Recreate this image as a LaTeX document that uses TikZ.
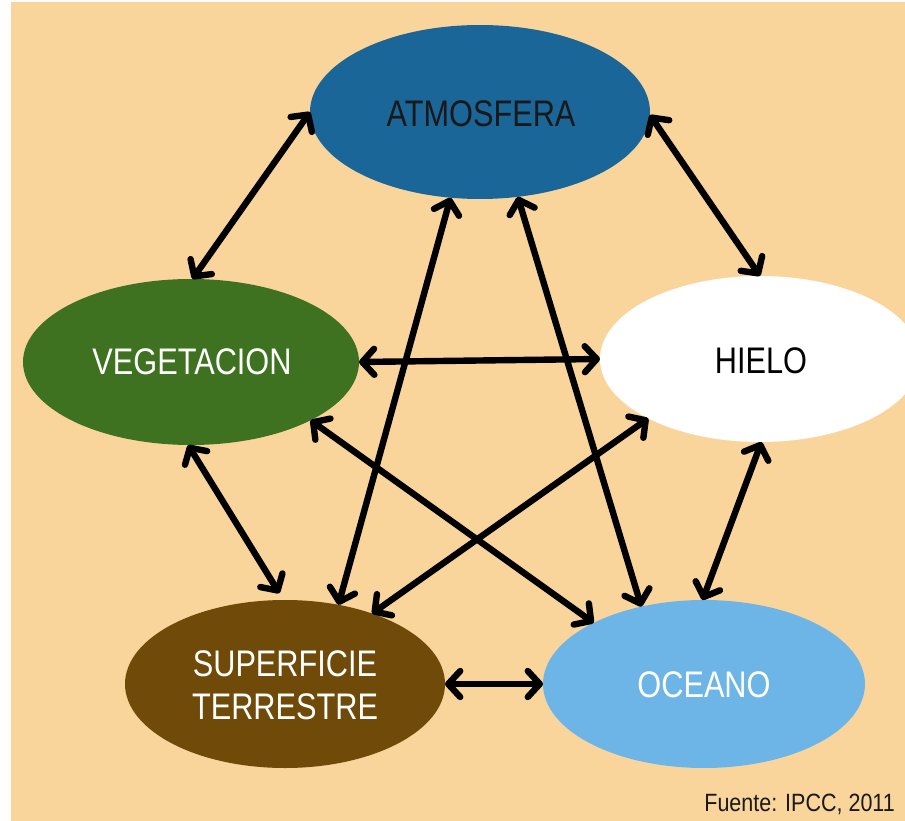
\documentclass[tikz,border=0pt]{standalone}
\usepackage{fontspec}
\setmainfont{Liberation Sans}
\newfontfamily\condfont[FakeStretch=0.83]{Liberation Sans}
\newfontfamily\srcfont[FakeStretch=0.86]{Liberation Sans}
\usetikzlibrary{shapes.geometric,arrows.meta}
\definecolor{bgpeach}{RGB}{249,213,156}
\definecolor{atmblue}{RGB}{26,102,153}
\definecolor{veggreen}{RGB}{63,114,32}
\definecolor{supbrown}{RGB}{111,74,8}
\definecolor{oceblue}{RGB}{109,181,230}
\tikzset{
  blob/.style={ellipse, inner sep=0pt, outer sep=0pt, align=center, text depth=0pt,
    font=\condfont\fontsize{37}{43}\selectfont},
  link/.style={line width=6.4pt, {Straight Barb[length=12pt,width=26pt,round]}-{Straight Barb[length=12pt,width=26pt,round]}}
}
\begin{document}
\begin{tikzpicture}[x=1pt,y=-1pt]
\useasboundingbox (0,0) rectangle (905,821);
\fill[bgpeach] (11,2) rectangle (905,821);
\begin{scope}
\clip (11,2) rectangle (905,821);
\node[blob, fill=atmblue, minimum width=340pt, minimum height=174pt, text=black!90] (atm) at (480,112) {};
\node[blob, fill=veggreen, minimum width=336pt, minimum height=166pt, text=white] (veg) at (191,362) {};
\node[blob, fill=white, minimum width=320pt, minimum height=166pt, text=black] (hie) at (760,359) {};
\node[blob, fill=supbrown, minimum width=320pt, minimum height=168pt, text=white] (sup) at (285,684) {};
\node[blob, fill=oceblue, minimum width=322pt, minimum height=168pt, text=white] (oce) at (704,684) {};
\end{scope}
\node[blob, text=black!90] (atmtxt) at (481,114) {ATMOSFERA};
\node[blob, text=white] (vegtxt) at (192,362) {VEGETACION};
\node[blob, text=black] (hietxt) at (761,361) {HIELO};
\node[blob, text=white] (suptxt) at (285,685) {SUPERFICIE\\TERRESTRE};
\node[blob, text=white] (ocetxt) at (704,685) {OCEANO};
\node[anchor=base east, font=\srcfont\fontsize{25}{30}\selectfont, text=black!90, inner sep=0pt] (src) at (895,811) {Fuente: IPCC, 2011};

\draw[link] (atm.180) -- (veg.89);
\draw[link] (atm.359) -- (hie.90);
\draw[link] (veg.0) -- (hie.180);
\draw[link] (atm.251) -- (sup.56);
\draw[link] (atm.294) -- (oce.129);
\draw[link] (veg.334) -- (oce.151.6);
\draw[link] (hie.208) -- (sup.39.2);
\draw[link, shorten >=8pt] (veg.268) -- (sup.91);
\draw[link] (hie.271) -- (oce.91);
\draw[link] (sup.0) -- (oce.180);
\end{tikzpicture}
\end{document}
